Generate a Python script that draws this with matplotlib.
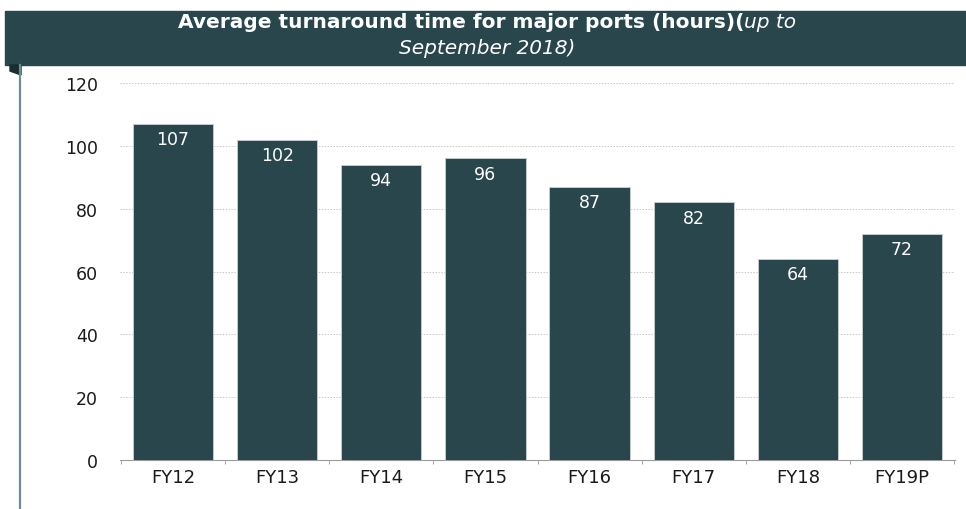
import matplotlib

matplotlib.use("Agg")

import matplotlib.pyplot as plt
from matplotlib.patches import Rectangle, Polygon
from matplotlib.lines import Line2D

categories = ["FY12", "FY13", "FY14", "FY15", "FY16", "FY17", "FY18", "FY19P"]
hours = [107, 102, 94, 96, 87, 82, 64, 72]
y_ticks = [0, 20, 40, 60, 80, 100, 120]

BAR = "#29464d"
plt.rcParams["font.family"] = ["DejaVu Sans"]

fig = plt.figure(figsize=(9.66, 5.10), dpi=100)
W, H = 966, 510

# title banner
fig.patches.append(Rectangle((5 / W, 1 - 66 / H), 961 / W, 54 / H,
                             transform=fig.transFigure, color=BAR, zorder=0))
fig.patches.append(Polygon([(10 / W, 1 - 66 / H), (21 / W, 1 - 66 / H),
                            (21 / W, 1 - 76 / H), (10 / W, 1 - 72 / H)],
                           closed=True, transform=fig.transFigure,
                           color="#1a2d31", zorder=1))
fig.lines.append(Line2D([20 / W, 20 / W], [0, 1 - 66 / H],
                        transform=fig.transFigure, color="#6e8c92", lw=1.6))

# title, bold part + italic part on line 1, italic line 2
TS = 14.5
t1 = fig.text(0, 1 - 22 / H, "Average turnaround time for major ports (hours)(",
              color="white", fontsize=TS, fontweight="bold", va="center")
t2 = fig.text(0, 1 - 22 / H, "up to", color="white", fontsize=TS,
              style="italic", va="center")
fig.canvas.draw()
r = fig.canvas.get_renderer()
w1 = t1.get_window_extent(r).width
w2 = t2.get_window_extent(r).width
x0 = 487 - (w1 + w2) / 2
t1.set_x(x0 / W)
t2.set_x((x0 + w1) / W)
fig.text(487 / W, 1 - 48 / H, "September 2018)", color="white", fontsize=TS,
         style="italic", ha="center", va="center")

ax = fig.add_axes([120 / W, 1 - 461 / H, 835 / W, 377 / H])
x = range(len(categories))
bars = ax.bar(x, hours, width=0.77, color=BAR, edgecolor="#c9d2d4",
              linewidth=0.6, zorder=3)
for b, v in zip(bars, hours):
    ax.text(b.get_x() + b.get_width() / 2, v - 2.0, str(v), color="white",
            ha="center", va="top", fontsize=12.5, zorder=4)

ax.set_xlim(-0.51, len(categories) - 0.49)
ax.set_ylim(0, 120)
ax.set_yticks(y_ticks)
ax.set_xticks(list(x))
ax.set_xticklabels(categories)
ax.set_xticks([i + 0.5 for i in range(-1, len(categories))], minor=True)
ax.tick_params(axis="x", which="major", length=0, labelsize=13, pad=6,
               labelcolor="#1a1a1a")
ax.tick_params(axis="x", which="minor", length=3, color="#9a9a9a")
ax.tick_params(axis="y", length=0, labelsize=12.5, pad=16, labelcolor="#1a1a1a")
ax.grid(axis="y", linestyle=(0, (1.5, 1.5)), color="#c8c8c8", lw=0.7, zorder=0)
for s in ["top", "right", "left"]:
    ax.spines[s].set_visible(False)
ax.spines["bottom"].set_color("#9a9a9a")

fig.savefig("out.png", dpi=100)
